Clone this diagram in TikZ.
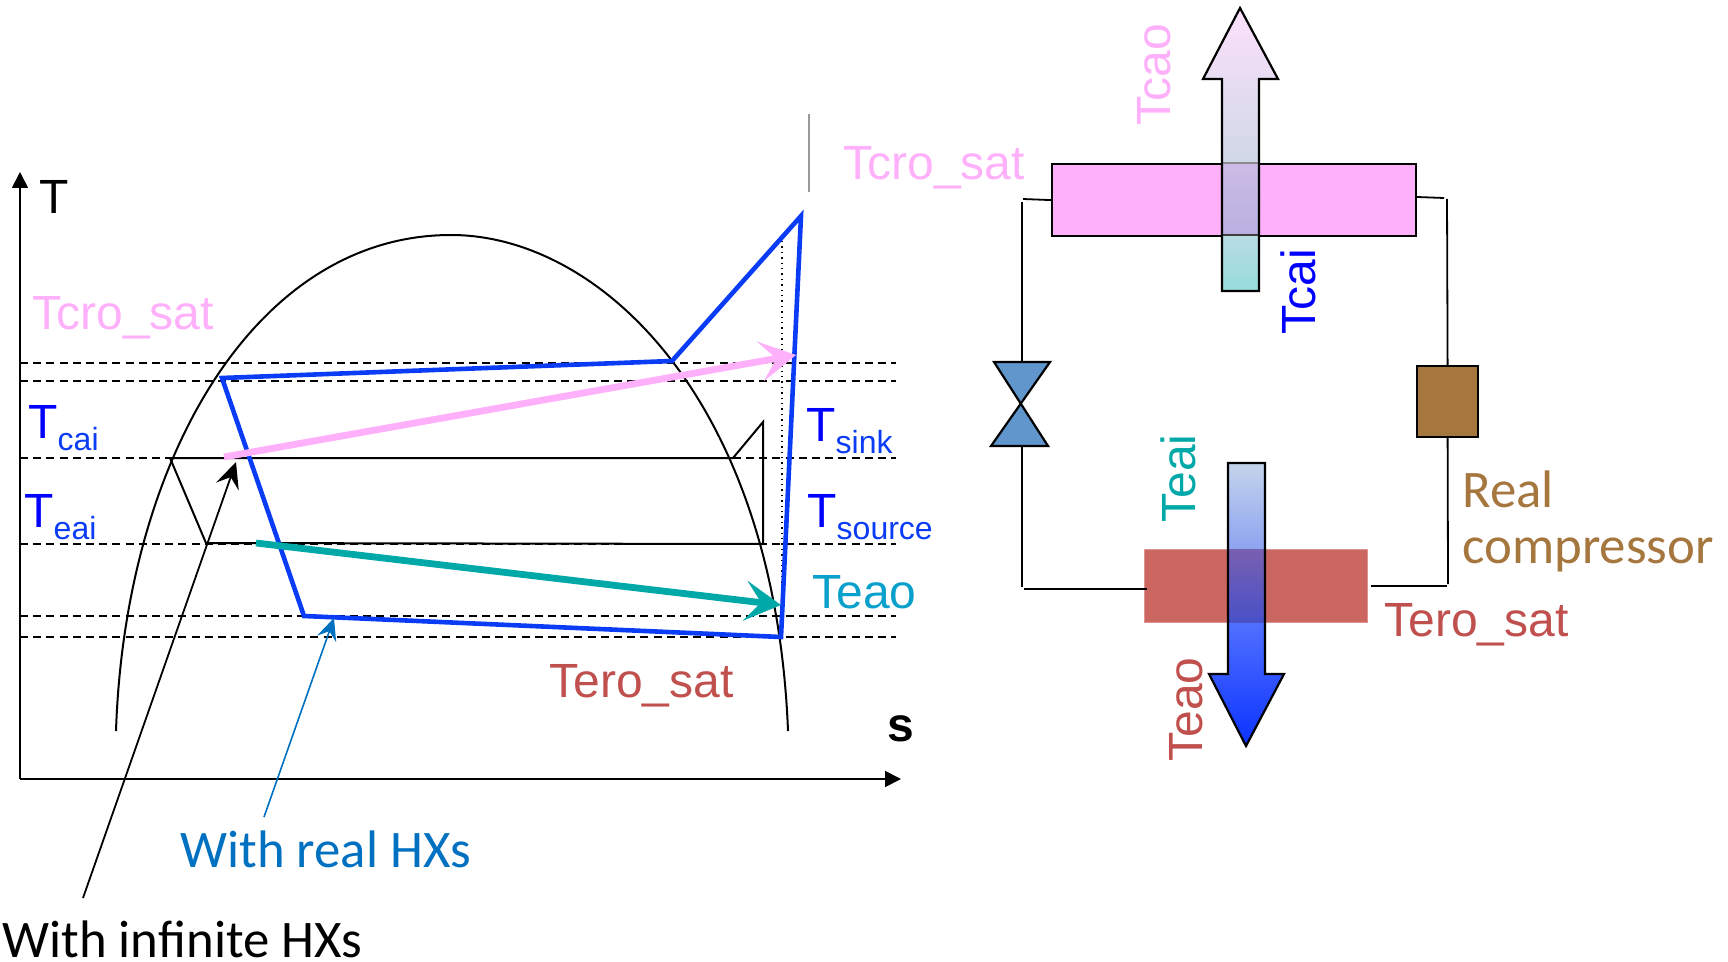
\documentclass[tikz,border=0pt]{standalone}
\usepackage{fontspec}
\setmainfont{Liberation Sans}
\newfontfamily\carlitofont{Carlito}
\usetikzlibrary{arrows.meta}
\definecolor{pinkc}{HTML}{FFB0FB}
\definecolor{bluec}{HTML}{0A3CF5}
\definecolor{pureb}{HTML}{0000FF}
\definecolor{tealc}{HTML}{00A8A8}
\definecolor{teao}{HTML}{0AA0CC}
\definecolor{redc}{HTML}{C0504D}
\definecolor{brownc}{HTML}{A6763F}
\definecolor{hxblue}{HTML}{0070C0}
\definecolor{valvec}{HTML}{6096CC}
\definecolor{evapc}{HTML}{CC6660}
\newcommand{\lfont}{\fontsize{24}{28}\selectfont}
\newcommand{\calf}{\carlitofont\fontsize{26.4}{30}\selectfont}
\newcommand{\Tsub}[1]{\textcolor{pureb}{T}\raisebox{-6pt}{\fontsize{16}{18}\selectfont\textcolor{bluec}{#1}}}
\tikzset{
  x=0.5pt,y=-0.5pt,
  lab/.style={anchor=base west,inner sep=0pt,font=\lfont},
  rlab/.style={anchor=base west,inner sep=0pt,font=\lfont,rotate=90},
  clab/.style={anchor=base west,inner sep=0pt,font=\calf},
  axisline/.style={line width=.9pt,-{Triangle[length=8pt,width=8pt]}},
  dash1/.style={line width=.75pt,dash pattern=on 4pt off 2.6pt},
  cycle1/.style={line width=2.3pt,draw=bluec,line join=miter},
  pinkarrow/.style={line width=3.4pt,draw=pinkc,-{Stealth[length=18pt,width=20pt,inset=8pt]}},
  tealarrow/.style={line width=3.4pt,draw=tealc,-{Stealth[length=18pt,width=20pt,inset=8pt]}},
  box1/.style={draw,line width=1.1pt,inner sep=0pt},
  pipe/.style={line width=.9pt},
}
\begin{document}
\begin{tikzpicture}
\useasboundingbox (0,0) rectangle (1728,962);
% axes
\coordinate (origin) at (20,779);
\coordinate (ytop) at (20,172);
\coordinate (xend) at (901,779);
\draw[axisline] (origin) -- (ytop);
\draw[axisline] (origin) -- (xend);
\node[lab] (tlab) at (39,214) {T};
\node[lab] (slab) at (887,741) {\textbf{s}};
% dome
\coordinate (dl) at (116,731);
\coordinate (dp) at (451,235);
\coordinate (dr) at (788,731);
\draw[line width=1pt] (dl) .. controls (125,460) and (255,235) .. (dp) .. controls (600,235) and (775,400) .. (dr);
% dashed levels
\foreach \y/\n in {363/a,381/b,458/c,544/d,616/e,637/f}{
  \coordinate (l\n) at (20,\y);
  \coordinate (r\n) at (896,\y);
  \draw[dash1] (l\n) -- (r\n);
}
% ideal cycle
\coordinate (i1) at (170,458);
\coordinate (i2) at (733,458);
\coordinate (i3) at (763,422);
\coordinate (i4) at (763,544);
\coordinate (i5) at (206,543);
\draw[line width=1pt,line join=miter] (i1) -- (i2) -- (i3) -- (i4) -- (i5) -- cycle;
% marks
\coordinate (dt) at (782,241);
\coordinate (db) at (782,630);
\draw[line width=.7pt,dotted] (dt) -- (db);
\coordinate (gt) at (809,114);
\coordinate (gb) at (809,192);
\draw[line width=.8pt,draw=gray!80] (gt) -- (gb);
% real cycle
\coordinate (c1) at (222,378);
\coordinate (c2) at (672,361);
\coordinate (c3) at (801,216);
\coordinate (c4) at (781,637);
\coordinate (c5) at (304,616);
\draw[cycle1] (c1) -- (c2) -- (c3) -- (c4) -- (c5) -- cycle;
% glide arrows
\coordinate (ps) at (224,457);
\coordinate (pe) at (796,355);
\draw[pinkarrow] (ps) -- (pe);
\coordinate (ts) at (256,543);
\coordinate (te) at (781,605);
\draw[tealarrow] (ts) -- (te);
% annotations
\coordinate (ia) at (83,898);
\coordinate (ib) at (236,462);
\draw[line width=.9pt,-{Stealth[length=13pt,width=12pt,inset=5pt]}] (ia) -- (ib);
\coordinate (ra) at (264,817);
\coordinate (rb) at (334,618);
\draw[line width=.8pt,draw=hxblue,-{Stealth[length=11pt,width=10pt,inset=4pt]}] (ra) -- (rb);
\node[clab,text=hxblue] (real) at (180,867) {With real HXs};
\node[clab] (inf) at (2,957) {With infinite HXs};
% T-s labels
\node[lab,text=pinkc] (l1) at (32,330) {Tcro\_sat};
\node[lab] (l2) at (28,438) {\Tsub{cai}};
\node[lab] (l3) at (24,527) {\Tsub{eai}};
\node[lab] (l4) at (806,441) {\Tsub{sink}};
\node[lab] (l5) at (807,527) {\Tsub{source}};
\node[lab,text=teao] (l6) at (812,608) {Teao};
\node[lab,text=redc] (l7) at (549,697) {Tero\_sat};
% circuit boxes
\node[box1,fill=pinkc,minimum width=182pt,minimum height=36pt,anchor=north west] (cond) at (1051,163) {};
\node[draw=evapc!70!white,line width=.5pt,fill=evapc,inner sep=0pt,minimum width=111.5pt,minimum height=36.5pt,anchor=north west] (evap) at (1144,549) {};
\node[box1,fill=brownc,minimum width=30.5pt,minimum height=35.5pt,anchor=north west] (comp) at (1416,365) {};
% valve
\coordinate (vt) at (1022,362);
\coordinate (vb) at (1022,446);
\filldraw[fill=valvec,line width=1.1pt,line join=miter] (994,362) -- (1050,362) -- (991,446) -- (1048,446) -- cycle;
% pipes
\coordinate (p1) at (1023,199);
\coordinate (p2) at (1022,202);
\coordinate (p3) at (1444,198);
\coordinate (p4) at (1447,199);
\coordinate (p5) at (1022,587);
\coordinate (p6) at (1024,589);
\coordinate (p7) at (1371,586);
\coordinate (p8) at (1447,586);
\coordinate (p9) at (1448,584);
\coordinate (p10) at (1147,589);
\coordinate (p11) at (1417,197);
\draw[pipe] (cond.west) -- (p1);
\draw[pipe] (p2) -- (vt);
\draw[pipe] (p11) -- (p3);
\draw[pipe] (p4) -- (comp.north);
\draw[pipe] (vb) -- (p5);
\draw[pipe] (p6) -- (p10);
\draw[pipe] (p7) -- (p8);
\draw[pipe] (p9) -- (comp.south);
% up arrow
\shade[top color={rgb,255:red,252;green,224;blue,252},bottom color={rgb,255:red,208;green,216;blue,232}] (1240,8) -- (1278,79) -- (1259,79) -- (1259,163) -- (1222,163) -- (1222,79) -- (1203,79) -- cycle;
\shade[top color={rgb,255:red,205;green,188;blue,230},bottom color={rgb,255:red,184;green,176;blue,224}] (1222,163) rectangle (1259,235);
\shade[top color={rgb,255:red,184;green,220;blue,228},bottom color={rgb,255:red,150;green,220;blue,220}] (1222,235) rectangle (1259,291);
\draw[line width=.7pt,draw=black!45] (1222,163) -- (1259,163);
\draw[line width=1pt,draw=black!75] (1222,235) -- (1259,235);
\draw[line width=1.1pt,line join=miter] (1240,8) -- (1278,79) -- (1259,79) -- (1259,291) -- (1222,291) -- (1222,79) -- (1203,79) -- cycle;
% down arrow
\shade[top color={rgb,255:red,196;green,212;blue,236},bottom color={rgb,255:red,140;green,164;blue,240}] (1228,463) rectangle (1265,549);
\shade[top color={rgb,255:red,120;green,96;blue,176},bottom color={rgb,255:red,72;green,80;blue,200}] (1228,549) rectangle (1265,623);
\shade[top color={rgb,255:red,80;green,112;blue,255},bottom color={rgb,255:red,10;green,50;blue,255}] (1246,746) -- (1209,674) -- (1228,674) -- (1228,623) -- (1265,623) -- (1265,674) -- (1284,674) -- cycle;
\draw[line width=1.1pt,line join=miter] (1246,746) -- (1209,674) -- (1228,674) -- (1228,463) -- (1265,463) -- (1265,674) -- (1284,674) -- cycle;
% circuit labels
\node[lab,text=pinkc] (r1) at (843,180) {Tcro\_sat};
\node[lab,text=redc] (r2) at (1384,636) {Tero\_sat};
\node[rlab,text=pinkc] (r3) at (1170,126) {Tcao};
\node[rlab,text=pureb] (r4) at (1315,335) {Tcai};
\node[rlab,text=tealc] (r5) at (1195,523) {Teai};
\node[rlab,text=redc] (r6) at (1202,762) {Teao};
\node[clab,text=brownc] (r7) at (1462,507) {Real};
\node[clab,text=brownc] (r8) at (1462,563) {compressor};
\end{tikzpicture}
\end{document}
